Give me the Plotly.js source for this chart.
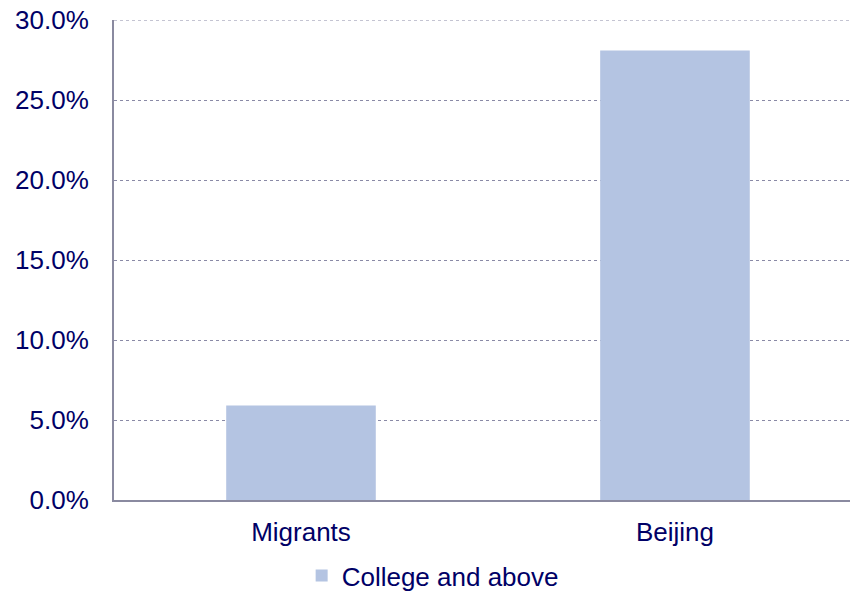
<!DOCTYPE html>
<html><head><meta charset="utf-8">
<script src="https://cdn.plot.ly/plotly-3.0.1.min.js"></script>
<style>html,body{margin:0;padding:0;background:#fff;overflow:hidden;}#chart{width:850px;height:599px;}</style>
</head><body><div id="chart"></div>
<script>
const categories = ["Migrants", "Beijing"];
const collegeAndAbove = [0.059, 0.281];
const seriesName = "College and above";
const yMax = 0.3;

const font = {family: "Liberation Sans, Arial, sans-serif", size: 26, color: "#000066"};
Plotly.newPlot("chart", [{
  type: "bar", x: categories, y: collegeAndAbove, name: seriesName,
  marker: {color: "#b4c4e2"}, showlegend: true
}], {
  width: 850, height: 599,
  margin: {l: 114, r: 0, t: 20, b: 99},
  paper_bgcolor: "#fff", plot_bgcolor: "#fff",
  font: font,
  bargap: 0.6,
  xaxis: {
    range: [-0.5, 1.468], showgrid: false, showline: true, linecolor: "#8a8aa0", linewidth: 2,
    ticks: "outside", ticklen: 8, tickcolor: "rgba(0,0,0,0)", tickfont: font
  },
  yaxis: {
    range: [0, yMax], dtick: 0.05, tickformat: ".1%", showgrid: true, gridcolor: "#8a8aa6",
    griddash: "dot", gridwidth: 1, showline: true, linecolor: "#8a8aa0", linewidth: 2,
    ticks: "outside", ticklen: 18, tickcolor: "rgba(0,0,0,0)", tickfont: font, zeroline: false
  },
  shapes: [{type: "line", xref: "paper", yref: "y", x0: 0, x1: 1, y0: yMax, y1: yMax,
    line: {color: "#8a8aa6", width: 1, dash: "dot"}, layer: "below"}],
  legend: {orientation: "h", xref: "container", yref: "container", x: 0.509, xanchor: "center",
    y: -0.025, yanchor: "bottom", font: font},
  showlegend: true
}, {displayModeBar: false});
</script></body></html>
